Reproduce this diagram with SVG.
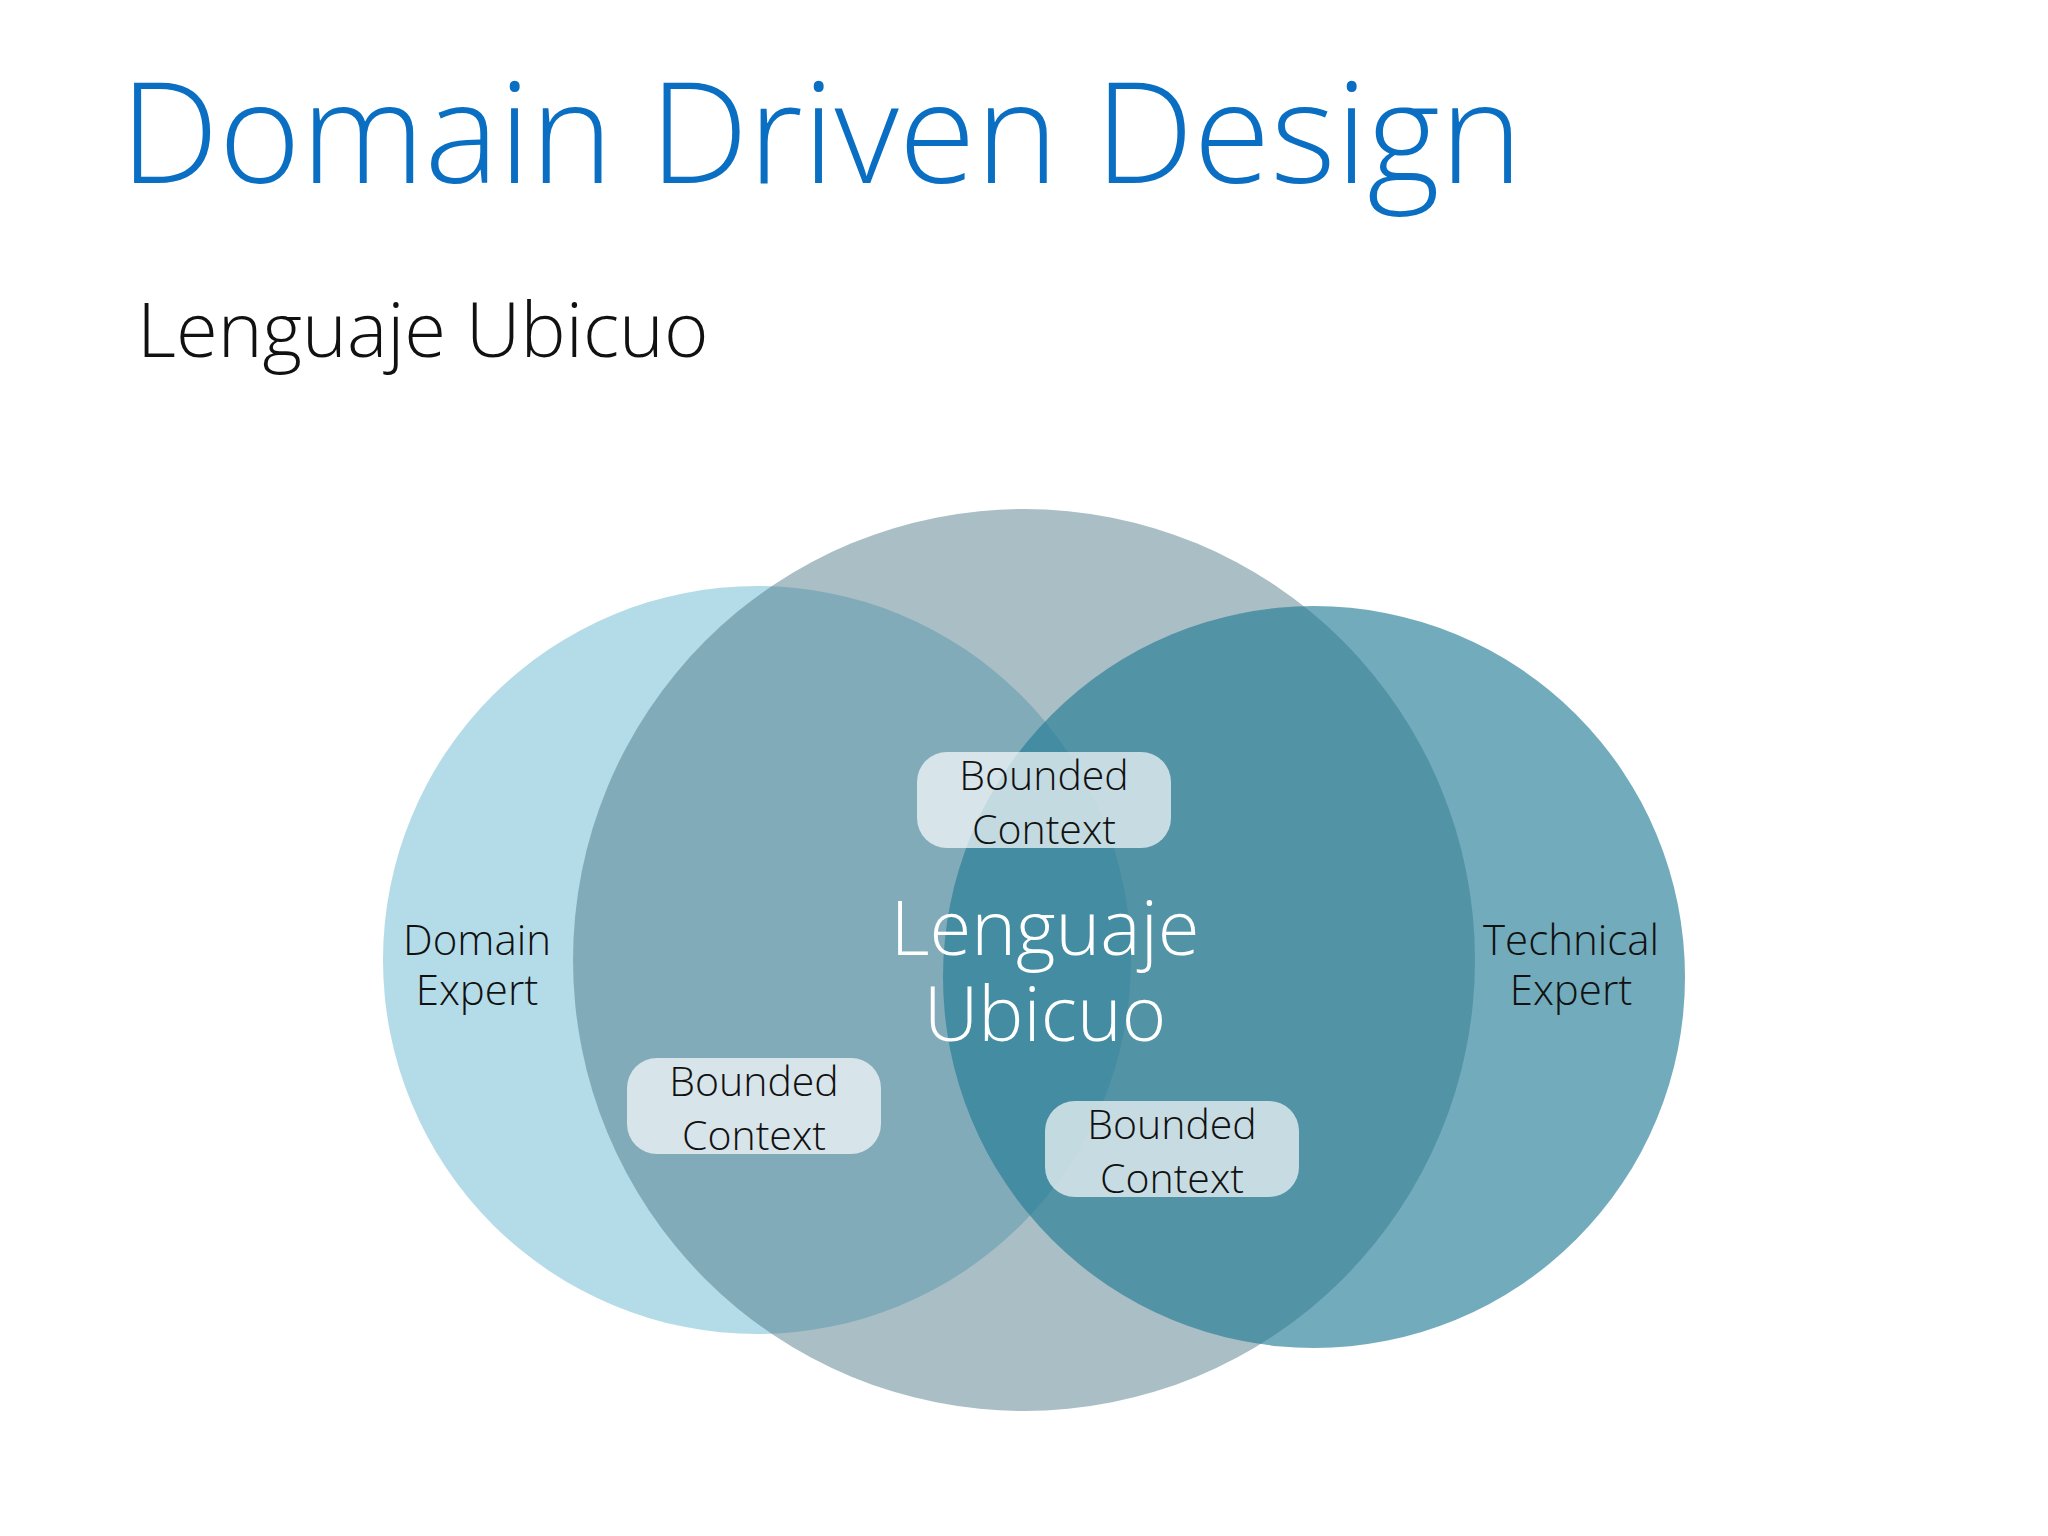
<svg xmlns="http://www.w3.org/2000/svg" width="2048" height="1536" viewBox="0 0 2048 1536">
<style>
text{font-family:"Open Sans","Noto Sans","Liberation Sans",sans-serif;font-weight:300}
.bc{fill:#ffffff;fill-opacity:0.68}
.bt{font-size:41px;fill:#111;text-anchor:middle}
.lab{font-size:42px;fill:#111;text-anchor:middle}
</style>
<rect width="2048" height="1536" fill="#ffffff"/>
<text x="120" y="183" font-size="140" fill="#0a6fc2">Domain Driven Design</text>
<text x="137" y="357" font-size="76" fill="#111">Lenguaje Ubicuo</text>
<g id="domain-circle"><circle cx="757" cy="960" r="374" fill="#b4dce8"/></g>
<g id="lenguaje-circle"><circle cx="1024" cy="960" r="451" fill="#4a7585" fill-opacity="0.47"/></g>
<g id="technical-circle"><circle cx="1314" cy="977" r="371" fill="#1f7a94" fill-opacity="0.63"/></g>
<g id="domain-label"><text class="lab" x="477" y="955">Domain</text><text class="lab" x="477" y="1005">Expert</text></g>
<g id="technical-label"><text class="lab" x="1571" y="955">Technical</text><text class="lab" x="1571" y="1005">Expert</text></g>
<g id="center-label"><text x="1045" y="955" font-size="76" fill="#fff" text-anchor="middle">Lenguaje</text><text x="1045" y="1041" font-size="76" fill="#fff" text-anchor="middle">Ubicuo</text></g>
<g id="bc-top"><rect class="bc" x="917" y="752" width="254" height="96" rx="30"/><text class="bt" x="1044" y="790">Bounded</text><text class="bt" x="1044" y="844">Context</text></g>
<g id="bc-left"><rect class="bc" x="627" y="1058" width="254" height="96" rx="30"/><text class="bt" x="754" y="1096">Bounded</text><text class="bt" x="754" y="1150">Context</text></g>
<g id="bc-right"><rect class="bc" x="1045" y="1101" width="254" height="96" rx="30"/><text class="bt" x="1172" y="1139">Bounded</text><text class="bt" x="1172" y="1193">Context</text></g>
<g id="connectors"/>
</svg>
